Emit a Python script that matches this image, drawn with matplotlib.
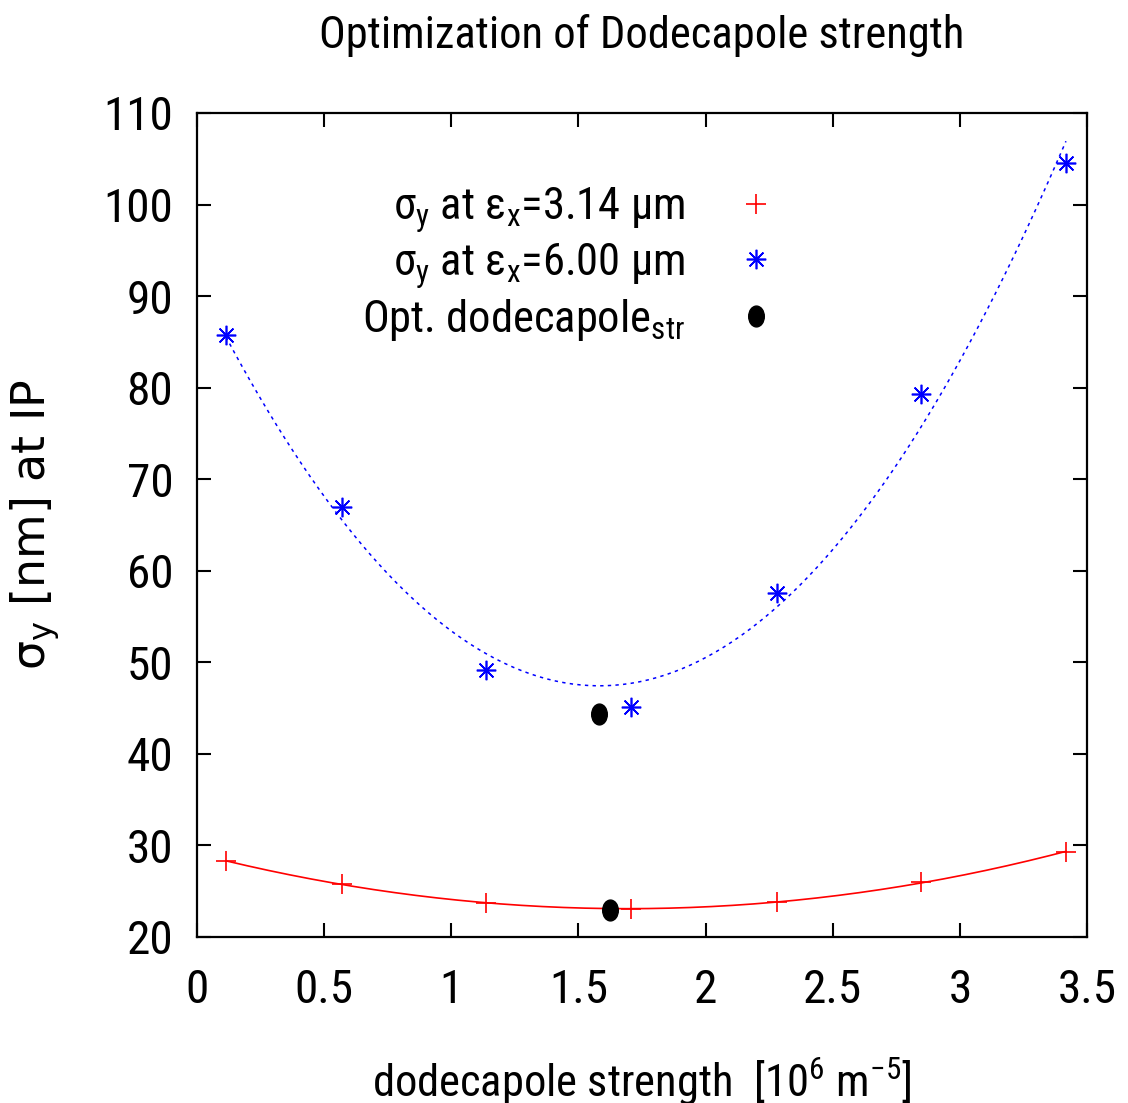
import numpy as np
import matplotlib
matplotlib.use('Agg')
import matplotlib.pyplot as plt
from matplotlib import font_manager
from matplotlib.path import Path
from matplotlib.transforms import Affine2D

# gnuplot output uses a narrow Helvetica; take a narrow face if there is one
names = set(f.name for f in font_manager.fontManager.ttflist)
narrow = [n for n in ['Liberation Sans Narrow', 'Roboto Condensed',
                      'Open Sans Condensed', 'DejaVu Sans Condensed'] if n in names]
if narrow:
    main_font = narrow[0]
    fs = 32
else:
    main_font = 'Liberation Sans'
    fs = 28

plt.rcParams['font.family'] = [main_font, 'DejaVu Sans']
plt.rcParams['mathtext.fontset'] = 'custom'
plt.rcParams['mathtext.rm'] = main_font
plt.rcParams['mathtext.it'] = main_font

# dodecapole strength [10^6 m^-5]
strength = [0.114, 0.570, 1.136, 1.707, 2.280, 2.847, 3.417]
# sigma_y [nm] at IP
sigma_314 = [28.3, 25.8, 23.7, 23.06, 23.8, 26.0, 29.3]
sigma_600 = [85.75, 66.96, 49.16, 45.12, 57.57, 79.3, 104.53]
# optimum points
opt_x = [1.58, 1.624]
opt_y = [44.36, 22.95]

xticks = [0, 0.5, 1, 1.5, 2, 2.5, 3, 3.5]
xtick_labels = ['0', '0.5', '1', '1.5', '2', '2.5', '3', '3.5']
yticks = [20, 30, 40, 50, 60, 70, 80, 90, 100, 110]

fig = plt.figure(figsize=(11.28, 11.03), dpi=100)
ax = fig.add_axes([0.1746, 0.1505, 0.7891, 0.7471])

# quadratic fits through the measured points
xs = np.linspace(min(strength), max(strength), 200)
fit_red = np.polyval(np.polyfit(strength, sigma_314, 2), xs)
fit_blue = np.polyval(np.polyfit(strength, sigma_600, 2), xs)
ax.plot(xs, fit_red, color='#ff0000', lw=1.2)
ax.plot(xs, fit_blue, color='#0000ff', lw=1.1, linestyle=(0, (2.2, 2.8)))

# elliptical dot (gnuplot output is squeezed horizontally)
ellipse = Path.unit_circle().transformed(Affine2D().scale(0.75, 1.0))

ax.plot(strength, sigma_314, linestyle='none', marker='+', ms=14, mew=1.2,
        color='#ff0000', label=r'σ$_\mathregular{y}$ at ε$_\mathregular{x}$=3.14 μm')
ax.plot(strength, sigma_600, linestyle='none', marker=(8, 2, 0), ms=14, mew=1.2,
        color='#0000ff', label=r'σ$_\mathregular{y}$ at ε$_\mathregular{x}$=6.00 μm')
ax.plot(opt_x, opt_y, linestyle='none', marker=ellipse, ms=15,
        color='black', label=r'Opt. dodecapole$_\mathregular{str}$')

ax.set_xlim(0, 3.5)
ax.set_ylim(20, 110)
ax.set_xticks(xticks)
ax.set_xticklabels(xtick_labels)
ax.set_yticks(yticks)
ax.tick_params(direction='in', length=10, width=1.5, labelsize=fs + 2,
               top=True, right=True)
ax.tick_params(axis='y', pad=17)
ax.tick_params(axis='x', pad=22)
for sp in ax.spines.values():
    sp.set_linewidth(1.6)

ax.set_title('Optimization of Dodecapole strength', fontsize=fs, pad=47)
ax.set_xlabel(r'dodecapole strength  [10$^\mathregular{6}$ m$^\mathregular{-5}$]',
              fontsize=fs, labelpad=32)
ax.set_ylabel(r'σ$_\mathregular{y}$ [nm] at IP', fontsize=33, family='DejaVu Sans')
ax.yaxis.set_label_coords(-0.152, 0.5)

ax.legend(loc='upper right', bbox_to_anchor=(0.703, 0.939), markerfirst=False,
          frameon=False, fontsize=fs, handlelength=2.0, handletextpad=0.6,
          labelspacing=0.15, borderpad=0)

fig.savefig('out.png', dpi=100)
